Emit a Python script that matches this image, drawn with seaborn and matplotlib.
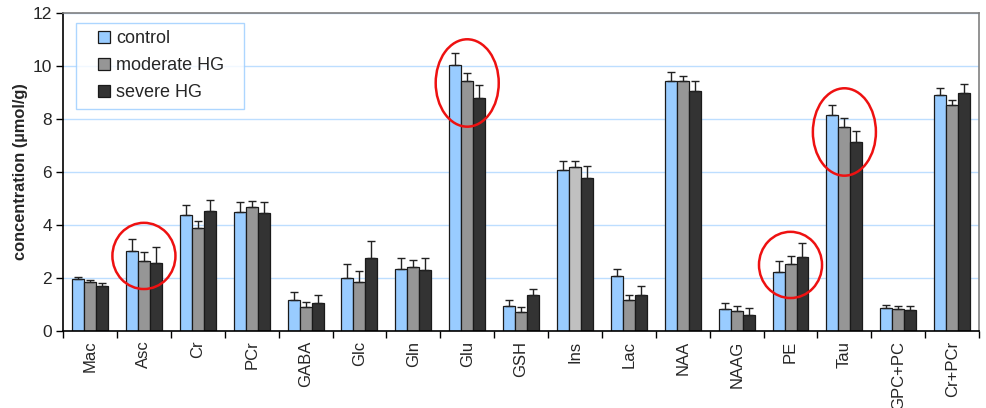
import matplotlib
matplotlib.use("Agg")
import matplotlib.pyplot as plt
from matplotlib.patches import Patch, Ellipse, Rectangle
from matplotlib.legend_handler import HandlerPatch
import numpy as np
import pandas as pd
import seaborn as sns

# Metabolite concentrations (mean and SD, µmol/g)
metabolites = ["Mac", "Asc", "Cr", "PCr", "GABA", "Glc", "Gln", "Glu", "GSH",
               "Ins", "Lac", "NAA", "NAAG", "PE", "Tau", "GPC+PC", "Cr+PCr"]
groups = ["control", "moderate HG", "severe HG"]

control_mean = [1.95, 3.01, 4.38, 4.50, 1.16, 1.98, 2.33, 10.04, 0.93,
                6.06, 2.09, 9.43, 0.82, 2.23, 8.16, 0.86, 8.90]
control_sd = [0.08, 0.47, 0.36, 0.36, 0.30, 0.54, 0.43, 0.45, 0.25,
              0.35, 0.25, 0.34, 0.23, 0.39, 0.37, 0.12, 0.27]
moderate_mean = [1.86, 2.63, 3.87, 4.67, 0.91, 1.86, 2.41, 9.43, 0.71,
                 6.20, 1.16, 9.43, 0.74, 2.52, 7.71, 0.82, 8.53]
moderate_sd = [0.05, 0.34, 0.29, 0.25, 0.17, 0.41, 0.27, 0.29, 0.18,
               0.21, 0.19, 0.18, 0.19, 0.30, 0.33, 0.12, 0.20]
severe_mean = [1.71, 2.56, 4.53, 4.46, 1.05, 2.76, 2.30, 8.79, 1.35,
               5.78, 1.37, 9.06, 0.59, 2.80, 7.14, 0.79, 8.98]
severe_sd = [0.08, 0.59, 0.43, 0.40, 0.32, 0.62, 0.46, 0.50, 0.25,
             0.43, 0.34, 0.37, 0.27, 0.50, 0.42, 0.15, 0.33]

# Metabolites circled as showing a group trend
circled = ["Asc", "Glu", "PE", "Tau"]

means = [control_mean, moderate_mean, severe_mean]
sds = [control_sd, moderate_sd, severe_sd]

df = pd.DataFrame({
    "metabolite": np.tile(metabolites, len(groups)),
    "group": np.repeat(groups, len(metabolites)),
    "value": np.concatenate(means),
})

colors = ["#99CCFF", "#969696", "#333333"]

sns.set_theme(style="white")
plt.rcParams["font.family"] = ["Liberation Sans", "DejaVu Sans"]

fig = plt.figure(figsize=(9.86, 4.08), dpi=100)
ax = fig.add_axes([0.064, 0.189, 0.929, 0.779])

sns.barplot(data=df, x="metabolite", y="value", hue="group", order=metabolites,
            hue_order=groups, palette=colors, width=0.667, errorbar=None,
            edgecolor="#1a1a1a", linewidth=0.9, saturation=1, ax=ax, legend=False)

# the moderate-HG Ins bar is filled in a lighter grey
ax.containers[1][metabolites.index("Ins")].set_facecolor("#C0C0C0")

# upper error bars
for cont, sd in zip(ax.containers, sds):
    xs = [b.get_x() + b.get_width() / 2 for b in cont]
    ys = [b.get_height() for b in cont]
    ax.errorbar(xs, ys, yerr=[np.zeros(len(sd)), sd], fmt="none",
                ecolor="#222222", elinewidth=1.0, capsize=3.2, capthick=1.0, zorder=3)

# red ellipses around highlighted metabolites
ellipse_geom = {"Asc": (2.83, 2.5), "Glu": (9.36, 3.3), "PE": (2.49, 2.5), "Tau": (7.51, 3.3)}
for name in circled:
    cy, h = ellipse_geom[name]
    ax.add_patch(Ellipse((metabolites.index(name), cy), 1.17, h, fill=False,
                         edgecolor="#EE1111", linewidth=1.8, zorder=5, clip_on=False))

ax.set_xlim(-0.5, len(metabolites) - 0.5)
ax.set_ylim(0, 12)
ax.set_yticks(range(0, 13, 2))
ax.set_yticklabels([str(v) for v in range(0, 13, 2)], fontsize=12.5)
ax.yaxis.grid(True, color="#BDDEFF", linewidth=1.0)
ax.set_axisbelow(True)

ax.set_xticks(range(len(metabolites)))
ax.set_xticklabels(metabolites, rotation=90, fontsize=12, va="top")
ax.set_xticks(np.arange(-0.5, len(metabolites)), minor=True)
ax.tick_params(axis="x", which="major", length=0, pad=7)
ax.tick_params(axis="x", which="minor", length=5, width=1, color="black", direction="out", bottom=True)
ax.tick_params(axis="y", length=5, width=1, color="black", direction="out", left=True, pad=3)

for side in ["left", "bottom"]:
    ax.spines[side].set_color("black")
    ax.spines[side].set_linewidth(1.2)
for side in ["top", "right"]:
    ax.spines[side].set_color("#808080")
    ax.spines[side].set_linewidth(1.2)

ax.set_xlabel("")
ax.set_ylabel("concentration (µmol/g)", fontsize=11.8, fontweight="bold", labelpad=3)


# legend swatch: small square sitting at the right end of the handle area
def square_swatch(legend, orig_handle, xdescent, ydescent, width, height, fontsize):
    s = 8.6
    return Rectangle((width - s - xdescent, (height - s) / 2 - ydescent), s, s)


handles = [Patch(facecolor=c, edgecolor="#1a1a1a", linewidth=0.9) for c in colors]
leg = ax.legend(handles, groups, loc="upper left",
                bbox_to_anchor=(0.014, 0.5, 0.183, 0.469), mode="expand",
                frameon=True, fancybox=False, fontsize=13, handlelength=1.45,
                handleheight=0.7, handletextpad=0.35, labelspacing=0.55,
                borderpad=0.42, borderaxespad=0,
                handler_map={Patch: HandlerPatch(patch_func=square_swatch)})
leg.get_frame().set_edgecolor("#99CCFF")
leg.get_frame().set_linewidth(1.0)
leg.get_frame().set_facecolor("white")

fig.savefig("out.png", dpi=100)
